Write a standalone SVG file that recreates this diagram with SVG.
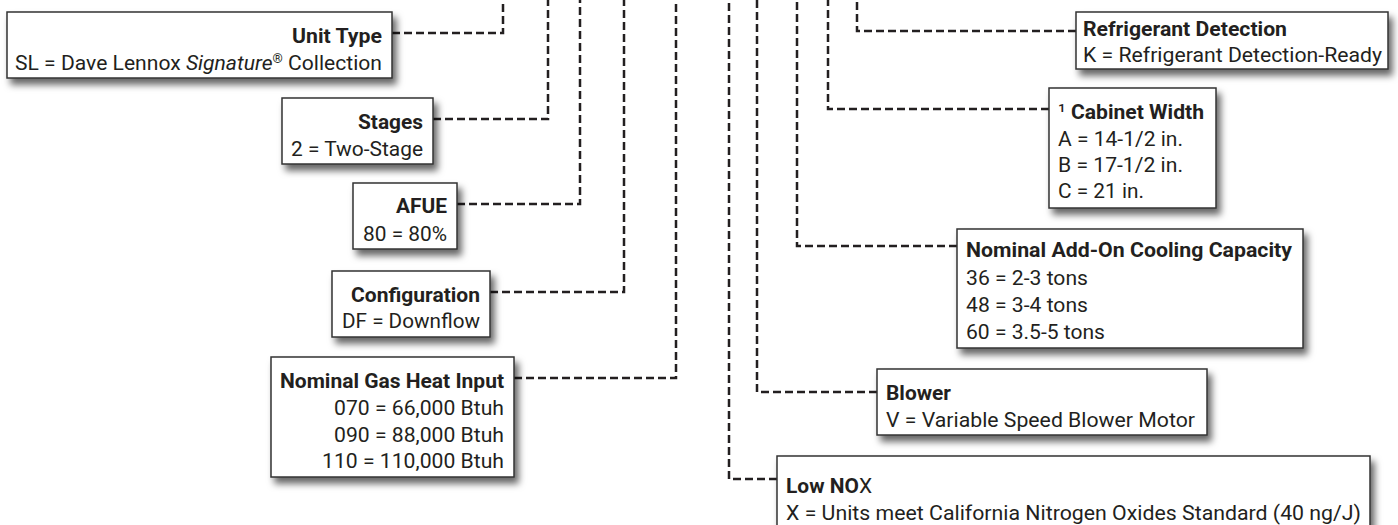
<svg xmlns="http://www.w3.org/2000/svg" width="1398" height="525" viewBox="0 0 1398 525">
<defs>
<filter id="sh" x="-10%" y="-20%" width="130%" height="160%">
<feDropShadow dx="4" dy="6" stdDeviation="3.5" flood-color="#000" flood-opacity="0.6"/>
</filter>
</defs>
<style>
.box{fill:#fff;stroke:#333;stroke-width:1.5;filter:url(#sh)}
.t{font-family:Roboto,"Liberation Sans",sans-serif;font-size:21px;fill:#231f20}
.b{font-weight:bold}
.r{text-anchor:end}
.c{fill:none;stroke:#231f20;stroke-width:2.5;stroke-dasharray:8 4}
</style>
<rect width="1398" height="525" fill="#fff"/>
<g id="connectors">
<path class="c" d="M392 33 H503 V0"/>
<path class="c" d="M433 119 H548 V0"/>
<path class="c" d="M457 204 H580 V0"/>
<path class="c" d="M490 292 H624 V0"/>
<path class="c" d="M514 378 H676 V0"/>
<path class="c" d="M777 479 H729 V0"/>
<path class="c" d="M877 392 H757 V0"/>
<path class="c" d="M957 246 H797 V0"/>
<path class="c" d="M1049 109 H828 V0"/>
<path class="c" d="M1076 31 H857 V0"/>
</g>
<g id="unit-type">
<rect class="box" x="7" y="12" width="385" height="66"/>
<text class="t b r" x="382" y="43" textLength="90" lengthAdjust="spacingAndGlyphs">Unit Type</text>
<text class="t r" x="382" y="70" textLength="367" lengthAdjust="spacingAndGlyphs">SL = Dave Lennox <tspan font-style="italic">Signature</tspan><tspan font-size="13" dy="-7">®</tspan><tspan dy="7"> Collection</tspan></text>
</g>
<g id="stages">
<rect class="box" x="282" y="98" width="151" height="66"/>
<text class="t b r" x="423" y="129" textLength="65" lengthAdjust="spacingAndGlyphs">Stages</text>
<text class="t r" x="423" y="156" textLength="132" lengthAdjust="spacingAndGlyphs">2 = Two-Stage</text>
</g>
<g id="afue">
<rect class="box" x="353" y="183" width="104" height="66"/>
<text class="t b r" x="447" y="213" textLength="51" lengthAdjust="spacingAndGlyphs">AFUE</text>
<text class="t r" x="447" y="241" textLength="84" lengthAdjust="spacingAndGlyphs">80 = 80%</text>
</g>
<g id="configuration">
<rect class="box" x="332" y="271" width="158" height="66"/>
<text class="t b r" x="480" y="302" textLength="129" lengthAdjust="spacingAndGlyphs">Configuration</text>
<text class="t r" x="480" y="328" textLength="138" lengthAdjust="spacingAndGlyphs">DF = Downflow</text>
</g>
<g id="gas-heat-input">
<rect class="box" x="271" y="357" width="243" height="120"/>
<text class="t b r" x="504" y="388" textLength="224" lengthAdjust="spacingAndGlyphs">Nominal Gas Heat Input</text>
<text class="t r" x="504" y="415" textLength="170" lengthAdjust="spacingAndGlyphs">070 = 66,000 Btuh</text>
<text class="t r" x="504" y="442" textLength="170" lengthAdjust="spacingAndGlyphs">090 = 88,000 Btuh</text>
<text class="t r" x="504" y="468" textLength="182" lengthAdjust="spacingAndGlyphs">110 = 110,000 Btuh</text>
</g>
<g id="refrigerant-detection">
<rect class="box" x="1076" y="12" width="312" height="57"/>
<text class="t b" x="1083" y="36" textLength="204" lengthAdjust="spacingAndGlyphs">Refrigerant Detection</text>
<text class="t" x="1083" y="62" textLength="299" lengthAdjust="spacingAndGlyphs">K = Refrigerant Detection-Ready</text>
</g>
<g id="cabinet-width">
<rect class="box" x="1049" y="88" width="167" height="120"/>
<text class="t" x="1058" y="119" textLength="146" lengthAdjust="spacingAndGlyphs">¹<tspan class="b"> Cabinet Width</tspan></text>
<text class="t" x="1058" y="146" textLength="125" lengthAdjust="spacingAndGlyphs">A = 14-1/2 in.</text>
<text class="t" x="1058" y="172" textLength="125" lengthAdjust="spacingAndGlyphs">B = 17-1/2 in.</text>
<text class="t" x="1058" y="198" textLength="86" lengthAdjust="spacingAndGlyphs">C = 21 in.</text>
</g>
<g id="cooling-capacity">
<rect class="box" x="957" y="229" width="346" height="119"/>
<text class="t b" x="966" y="257" textLength="326" lengthAdjust="spacingAndGlyphs">Nominal Add-On Cooling Capacity</text>
<text class="t" x="966" y="285" textLength="122" lengthAdjust="spacingAndGlyphs">36 = 2-3 tons</text>
<text class="t" x="966" y="312" textLength="122" lengthAdjust="spacingAndGlyphs">48 = 3-4 tons</text>
<text class="t" x="966" y="339" textLength="139" lengthAdjust="spacingAndGlyphs">60 = 3.5-5 tons</text>
</g>
<g id="blower">
<rect class="box" x="877" y="369" width="330" height="66"/>
<text class="t b" x="886" y="400" textLength="65" lengthAdjust="spacingAndGlyphs">Blower</text>
<text class="t" x="886" y="427" textLength="309" lengthAdjust="spacingAndGlyphs">V = Variable Speed Blower Motor</text>
</g>
<g id="low-nox">
<rect class="box" x="777" y="456" width="593" height="80"/>
<text class="t b" x="786" y="493" textLength="86" lengthAdjust="spacingAndGlyphs">Low NO<tspan font-weight="normal">X</tspan></text>
<text class="t" x="786" y="520" textLength="575" lengthAdjust="spacingAndGlyphs">X = Units meet California Nitrogen Oxides Standard (40 ng/J)</text>
</g>
</svg>
